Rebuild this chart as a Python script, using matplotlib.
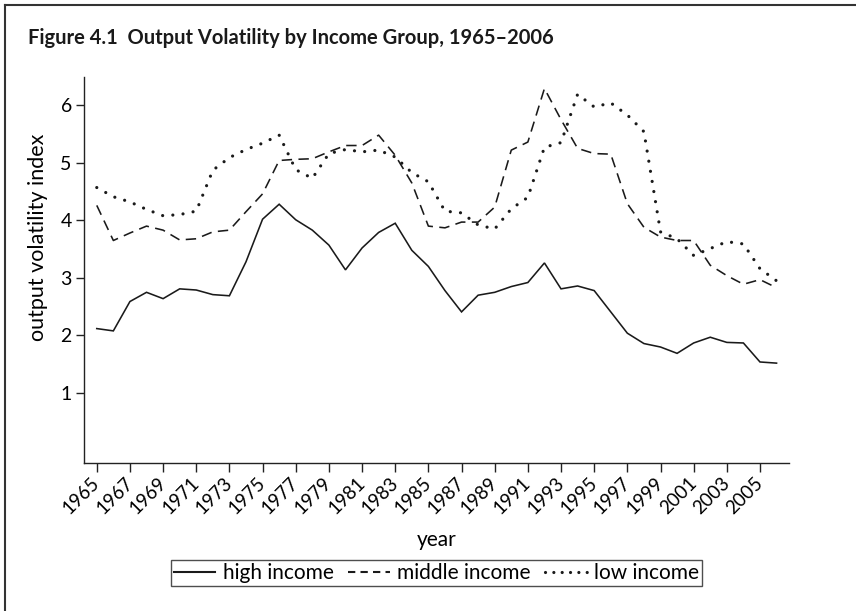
import matplotlib
matplotlib.use("Agg")
import matplotlib.pyplot as plt
from matplotlib.lines import Line2D

plt.rcParams['font.family'] = ['Lato', 'DejaVu Sans']

years = list(range(1965, 2007))
high_income = [2.12, 2.08, 2.59, 2.75, 2.64, 2.81, 2.79, 2.71, 2.69, 3.28,
               4.02, 4.28, 4.01, 3.83, 3.57, 3.14, 3.52, 3.79, 3.95, 3.48,
               3.20, 2.78, 2.41, 2.70, 2.75, 2.85, 2.92, 3.26, 2.81, 2.86,
               2.78, 2.41, 2.04, 1.86, 1.80, 1.69, 1.87, 1.97, 1.88, 1.87,
               1.54, 1.52]
middle_income = [4.26, 3.65, 3.78, 3.90, 3.83, 3.66, 3.68, 3.80, 3.83, 4.15,
                 4.46, 5.04, 5.06, 5.07, 5.19, 5.30, 5.30, 5.48, 5.13, 4.65,
                 3.90, 3.87, 3.97, 3.97, 4.23, 5.22, 5.36, 6.29, 5.75, 5.25,
                 5.16, 5.15, 4.29, 3.88, 3.71, 3.65, 3.65, 3.22, 3.04, 2.89,
                 2.97, 2.83]
low_income = [4.57, 4.41, 4.32, 4.19, 4.08, 4.10, 4.16, 4.87, 5.09, 5.23,
              5.34, 5.48, 4.88, 4.73, 5.16, 5.23, 5.19, 5.22, 5.10, 4.83,
              4.67, 4.16, 4.13, 3.92, 3.85, 4.20, 4.40, 5.27, 5.35, 6.19,
              5.97, 6.04, 5.83, 5.54, 3.80, 3.68, 3.39, 3.51, 3.63, 3.59,
              3.16, 2.95]
xtick_years = list(range(1965, 2006, 2))
yticks = [1, 2, 3, 4, 5, 6]
series_labels = ['high income', 'middle income', 'low income']

W, H = 856, 611
fig = plt.figure(figsize=(W / 100, H / 100), dpi=100)
fig.patch.set_facecolor('white')

ax = fig.add_axes([84 / W, 1 - 463.3 / H, (789 - 84) / W, (463.3 - 77) / H])
col = '#1a1a1a'
ax.plot(years, high_income, color=col, lw=1.15, solid_joinstyle='miter')
ax.plot(years, middle_income, color=col, lw=1.15, linestyle=(0, (6.5, 4.0)))
ax.plot(years, low_income, color=col, lw=2.3, linestyle=(0, (0.01, 3.2)),
        dash_capstyle='round')

ax.set_xlim(1964.23, 2006.75)
ax.set_ylim(-0.22, 6.49)
ax.set_xticks(xtick_years)
ax.set_xticklabels([str(y) for y in xtick_years], rotation=45, ha='right',
                   va='center', rotation_mode='anchor', fontsize=13.5)
ax.set_yticks(yticks)
ax.set_yticklabels([str(v) for v in yticks], fontsize=14)
for s in ['top', 'right']:
    ax.spines[s].set_visible(False)
for s in ['left', 'bottom']:
    ax.spines[s].set_linewidth(1.0)
    ax.spines[s].set_color('#222222')
ax.tick_params(axis='x', length=6.5, width=1.0, color='#222222', pad=6)
ax.tick_params(axis='y', length=5.8, width=1.0, color='#222222', pad=3)

fig.text(436.5 / W, 1 - 540 / H, 'year', ha='center', va='center', fontsize=15)
fig.text(38 / W, 1 - 237 / H, 'output volatility index', ha='center', va='center',
         rotation=90, fontsize=15.5)

fig.text(28 / W, 1 - 44.3 / H, 'Figure 4.1  Output Volatility by Income Group, 1965\u20132006',
         ha='left', va='baseline', fontsize=14.5, fontweight='bold', color='#1a1a1a')

handles = [
    Line2D([], [], color=col, lw=1.5),
    Line2D([], [], color=col, lw=1.5, linestyle=(0, (3.5, 2.5))),
    Line2D([], [], color=col, lw=2.3, linestyle=(0, (0.01, 2.6)), dash_capstyle='round'),
]
leg = fig.legend(handles, series_labels, loc='center', ncol=3,
                 bbox_to_anchor=(436.5 / W, 1 - 573 / H), frameon=True,
                 fancybox=False, edgecolor='#222222', fontsize=15,
                 handlelength=2.0, handletextpad=0.35, columnspacing=0.7,
                 borderpad=0.14, borderaxespad=0)
leg.get_frame().set_linewidth(1.0)

# outer frame (left and top)
fig.add_artist(Line2D([5 / W, 5 / W], [0, 1 - 5 / H], transform=fig.transFigure,
                      color='#333333', lw=1.5))
fig.add_artist(Line2D([5 / W, 1], [1 - 5 / H, 1 - 5 / H], transform=fig.transFigure,
                      color='#333333', lw=1.5))

fig.savefig('out.png', dpi=100, facecolor='white')
